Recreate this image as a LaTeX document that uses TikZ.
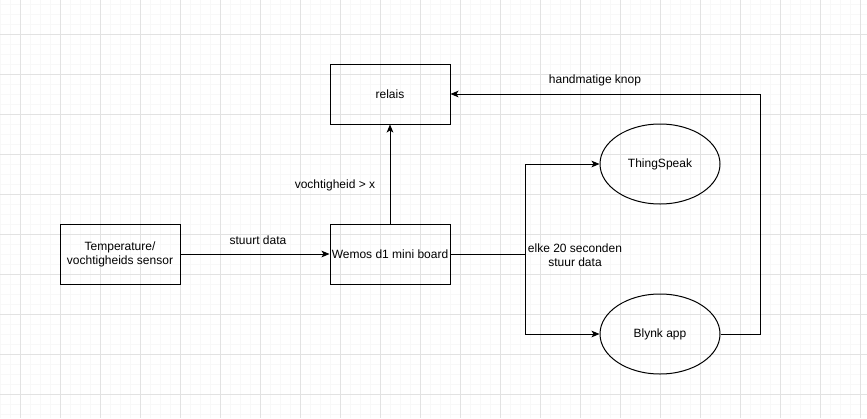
\documentclass[tikz,border=0pt]{standalone}
\usepackage{fontspec}
\setmainfont{Liberation Sans}
\usetikzlibrary{shapes.geometric,arrows.meta}

\tikzset{every picture/.style={line width=0.75pt}}
\tikzset{
  blok/.style={draw, rectangle, minimum width=90pt, minimum height=45pt, inner sep=0.75pt, align=center},
  wolk/.style={draw, ellipse, minimum width=90pt, minimum height=60pt, inner sep=0.75pt},
  pijl/.style={-{Stealth[length=6pt,width=5pt,inset=1.5pt]}},
  tekst/.style={inner sep=0.75pt, align=center}
}

\begin{document}
\begin{tikzpicture}[x=0.75pt,y=0.75pt,yscale=-1,xscale=1,font=\fontsize{9}{10.5}\selectfont]
\useasboundingbox (0,0) rectangle (867,418);
% Grid
\fill[white] (0,0) rectangle (867,418);
\begin{scope}[shift={(20,34)}]
\draw[line width=0.5pt, color={rgb,255:red,248;green,248;blue,248}, step=10] (-20,-34) grid (847,384);
\draw[line width=0.6pt, color={rgb,255:red,226;green,226;blue,226}, step=40] (-20,-34) grid (847,384);
\end{scope}

% Shape: Rectangle
\node[blok] (sensor) at (120,254) {Temperature/\\vochtigheids sensor};
% Shape: Rectangle
\node[blok] (wemos) at (390,254) {Wemos d1 mini board};
% Shape: Rectangle
\node[blok] (relais) at (390,94) {relais};
% Shape: Ellipse
\node[wolk] (thingspeak) at (660,164) {ThingSpeak};
% Shape: Ellipse
\node[wolk] (blynk) at (660,334) {Blynk app};

\coordinate (splits) at (525,254);
\coordinate (knop) at (760,94);

% Connectors
\draw[pijl] (sensor.east) -- (wemos.west);
\draw[pijl] (wemos.north) -- (relais.south);
\draw (wemos.east) -- (splits);
\draw[pijl] (splits) |- (thingspeak.west);
\draw[pijl] (splits) |- (blynk.west);
\draw[pijl] (blynk.east) -| (knop) -- (relais.east);

% Text Node
\node[tekst] (stuurt) at (258,240) {stuurt data};
% Text Node
\node[tekst] (groter) at (335,185) {vochtigheid > x};
% Text Node
\node[tekst] (handmatig) at (595,80) {handmatige knop};
% Text Node
\node[tekst] (elke) at (575,255) {elke 20 seconden\\stuur data};
\end{tikzpicture}
\end{document}
